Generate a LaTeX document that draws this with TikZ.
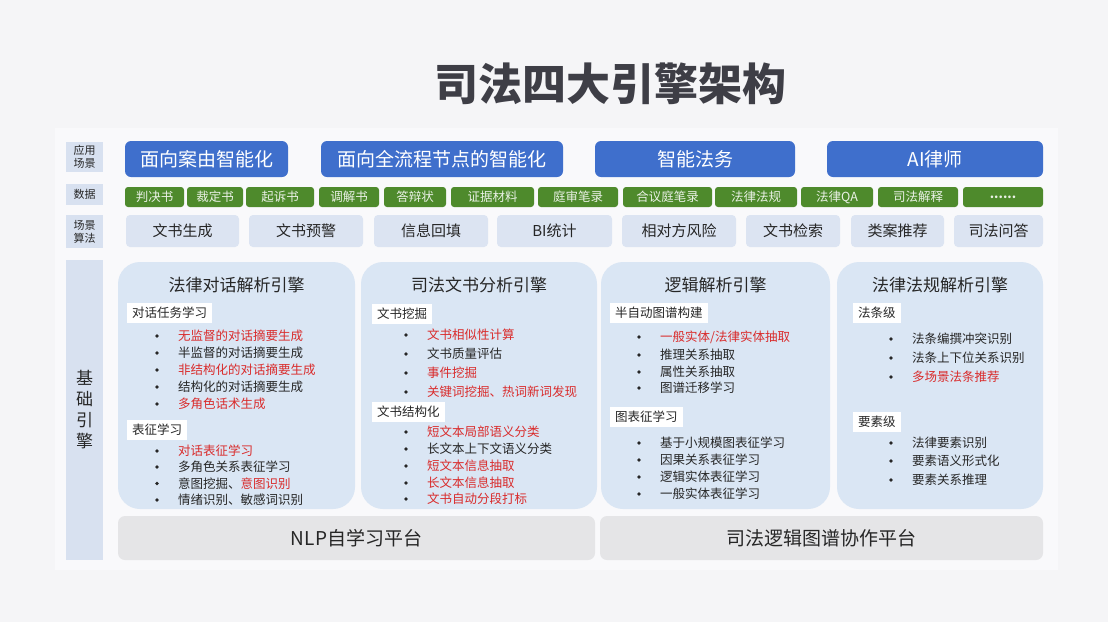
\documentclass[tikz,border=0pt]{standalone}
\usepackage{fontspec}
\setmainfont{Noto Sans CJK SC}
\usetikzlibrary{calc}
\definecolor{bg}{HTML}{F5F5F7}
\definecolor{appblue}{HTML}{3F6FCC}
\definecolor{datagreen}{HTML}{4E8A2C}
\definecolor{labfill}{HTML}{D8E1F0}
\definecolor{algfill}{HTML}{DCE4F2}
\definecolor{panelfill}{HTML}{DAE6F4}
\definecolor{platfill}{HTML}{E5E5E7}
\definecolor{txt}{HTML}{262626}
\definecolor{hl}{HTML}{D92B2B}
\definecolor{ttl}{HTML}{3E3E46}
\tikzset{
 lab/.style={fill=labfill, inner sep=0pt, align=center, font=\fontsize{11}{13}\selectfont, text=txt, minimum width=37pt},
 app/.style={fill=appblue, rounded corners=6pt, inner sep=0pt, text=white, font=\fontsize{19}{22}\selectfont, minimum height=36pt},
 dat/.style={fill=datagreen, rounded corners=3pt, inner sep=0pt, text=white!88!datagreen, font=\fontsize{12.5}{14}\selectfont, minimum height=20pt},
 alg/.style={fill=algfill, rounded corners=4pt, inner sep=0pt, text=txt, font=\fontsize{15}{17}\selectfont, minimum height=32pt},
 panel/.style={fill=panelfill, rounded corners=22pt, inner sep=0pt, minimum height=247pt},
 ptitle/.style={text=txt, font=\fontsize{17}{20}\selectfont, inner sep=0pt},
 sec/.style={fill=white, inner xsep=5pt, inner ysep=0pt, minimum height=20pt, text=txt, font=\fontsize{12.5}{14}\selectfont, anchor=west},
 itm/.style={inner sep=0pt, text=txt, font=\fontsize{12.5}{14}\selectfont, anchor=west},
 hot/.style={text=hl},
 plat/.style={fill=platfill, rounded corners=7pt, inner sep=0pt, minimum height=44pt, text=txt, font=\fontsize{19}{22}\selectfont},
}
\newcommand\engitem[4][]{\node[itm,#1] (#2) at (#3) {#4};
 \fill[txt] ($(#2.west)+(-21pt,0)$) circle (1.8pt);}
\begin{document}
\begin{tikzpicture}[x=1pt,y=-1pt]
\useasboundingbox (0,0) rectangle (1108,622);
\fill[bg] (0,0) rectangle (1108,622);
\fill[white!45!bg] (55,128) rectangle (1058,570);

% title
\node[font=\fontsize{44}{50}\selectfont\bfseries, text=ttl, inner sep=0pt] (title) at (610,84) {司法四大引擎架构};

% left labels
\node[lab, minimum height=30pt] (lab1) at (84.5,157) {应用\\场景};
\node[lab, minimum height=21pt] (lab2) at (84.5,194.5) {数据};
\node[lab, minimum height=33pt] (lab3) at (84.5,231.5) {场景\\算法};
\node[lab, minimum height=300pt, font=\fontsize{17}{21}\selectfont] (lab4) at (84.5,410) {基\\础\\引\\擎};

% application row
\node[app, minimum width=163pt] (a1) at (206.5,159) {面向案由智能化};
\node[app, minimum width=242pt] (a2) at (442,159) {面向全流程节点的智能化};
\node[app, minimum width=200pt] (a3) at (695,159) {智能法务};
\node[app, minimum width=216pt] (a4) at (935,159) {AI律师};

% data row
\node[dat, minimum width=59pt] (d1) at (154.5,197) {判决书};
\node[dat, minimum width=56pt] (d2) at (215,197) {裁定书};
\node[dat, minimum width=68pt] (d3) at (280,197) {起诉书};
\node[dat, minimum width=60pt] (d4) at (349,197) {调解书};
\node[dat, minimum width=62pt] (d5) at (415,197) {答辩状};
\node[dat, minimum width=83pt] (d6) at (492.5,197) {证据材料};
\node[dat, minimum width=80pt] (d7) at (578,197) {庭审笔录};
\node[dat, minimum width=89pt] (d8) at (667.5,197) {合议庭笔录};
\node[dat, minimum width=82pt] (d9) at (756,197) {法律法规};
\node[dat, minimum width=72pt] (d10) at (837,197) {法律QA};
\node[dat, minimum width=80pt] (d11) at (918,197) {司法解释};
\node[dat, minimum width=80pt, font=\fontsize{12.5}{14}\selectfont\bfseries] (d12) at (1003,197) {......};

% scene algorithm row
\node[alg, minimum width=113pt] (s1) at (182.5,231) {文书生成};
\node[alg, minimum width=114pt] (s2) at (306,231) {文书预警};
\node[alg, minimum width=114pt] (s3) at (431,231) {信息回填};
\node[alg, minimum width=115pt] (s4) at (554.5,231) {BI统计};
\node[alg, minimum width=114pt] (s5) at (679,231) {相对方风险};
\node[alg, minimum width=94pt] (s6) at (793,231) {文书检索};
\node[alg, minimum width=93pt] (s7) at (897.5,231) {类案推荐};
\node[alg, minimum width=89pt] (s8) at (998.5,231) {司法问答};

% engine panels
\node[panel, minimum width=237pt] (p1) at (236.5,385.5) {};
\node[panel, minimum width=236pt] (p2) at (479,385.5) {};
\node[panel, minimum width=229pt] (p3) at (715.5,385.5) {};
\node[panel, minimum width=206pt] (p4) at (940,385.5) {};

% panel 1
\node[ptitle] (t1) at (236.5,285) {法律对话解析引擎};
\node[sec] (h11) at (127,313) {对话任务学习};
\engitem[hot]{i11}{178,336}{无监督的对话摘要生成}
\engitem{i12}{178,353}{半监督的对话摘要生成}
\engitem[hot]{i13}{178,370}{非结构化的对话摘要生成}
\engitem{i14}{178,387}{结构化的对话摘要生成}
\engitem[hot]{i15}{178,404}{多角色话术生成}
\node[sec] (h12) at (127,429.5) {表征学习};
\engitem[hot]{i16}{178,451}{对话表征学习}
\engitem{i17}{178,467}{多角色关系表征学习}
\engitem{i18}{178,483.5}{意图挖掘、{\color{hl}意图识别}}
\engitem{i19}{178,500}{情绪识别、敏感词识别}

% panel 2
\node[ptitle] (t2) at (479,285) {司法文书分析引擎};
\node[sec] (h21) at (372,314) {文书挖掘};
\engitem[hot]{i21}{427,335}{文书相似性计算}
\engitem{i22}{427,354}{文书质量评估}
\engitem[hot]{i23}{427,373}{事件挖掘}
\engitem[hot]{i24}{427,392}{关键词挖掘、热词新词发现}
\node[sec] (h22) at (372,412) {文书结构化};
\engitem[hot]{i25}{427,432}{短文本局部语义分类}
\engitem{i26}{427,449}{长文本上下文语义分类}
\engitem[hot]{i27}{427,466}{短文本信息抽取}
\engitem[hot]{i28}{427,483}{长文本信息抽取}
\engitem[hot]{i29}{427,499}{文书自动分段打标}

% panel 3
\node[ptitle] (t3) at (715.5,285) {逻辑解析引擎};
\node[sec] (h31) at (610,313) {半自动图谱构建};
\engitem[hot]{i31}{660,337}{一般实体/法律实体抽取}
\engitem{i32}{660,355}{推理关系抽取}
\engitem{i33}{660,372}{属性关系抽取}
\engitem{i34}{660,388}{图谱迁移学习}
\node[sec] (h32) at (610,417) {图表征学习};
\engitem{i35}{660,443}{基于小规模图表征学习}
\engitem{i36}{660,460}{因果关系表征学习}
\engitem{i37}{660,477}{逻辑实体表征学习}
\engitem{i38}{660,494}{一般实体表征学习}

% panel 4
\node[ptitle] (t4) at (940,285) {法律法规解析引擎};
\node[sec] (h41) at (853,313) {法条级};
\engitem{i41}{912,339}{法条编撰冲突识别}
\engitem{i42}{912,358}{法条上下位关系识别}
\engitem[hot]{i43}{912,377}{多场景法条推荐}
\node[sec] (h42) at (853,422) {要素级};
\engitem{i44}{912,443}{法律要素识别}
\engitem{i45}{912,461}{要素语义形式化}
\engitem{i46}{912,480}{要素关系推理}

% platforms
\node[plat, minimum width=477pt] (b1) at (356.5,538) {NLP自学习平台};
\node[plat, minimum width=443pt] (b2) at (821.5,538) {司法逻辑图谱协作平台};
\end{tikzpicture}
\end{document}
